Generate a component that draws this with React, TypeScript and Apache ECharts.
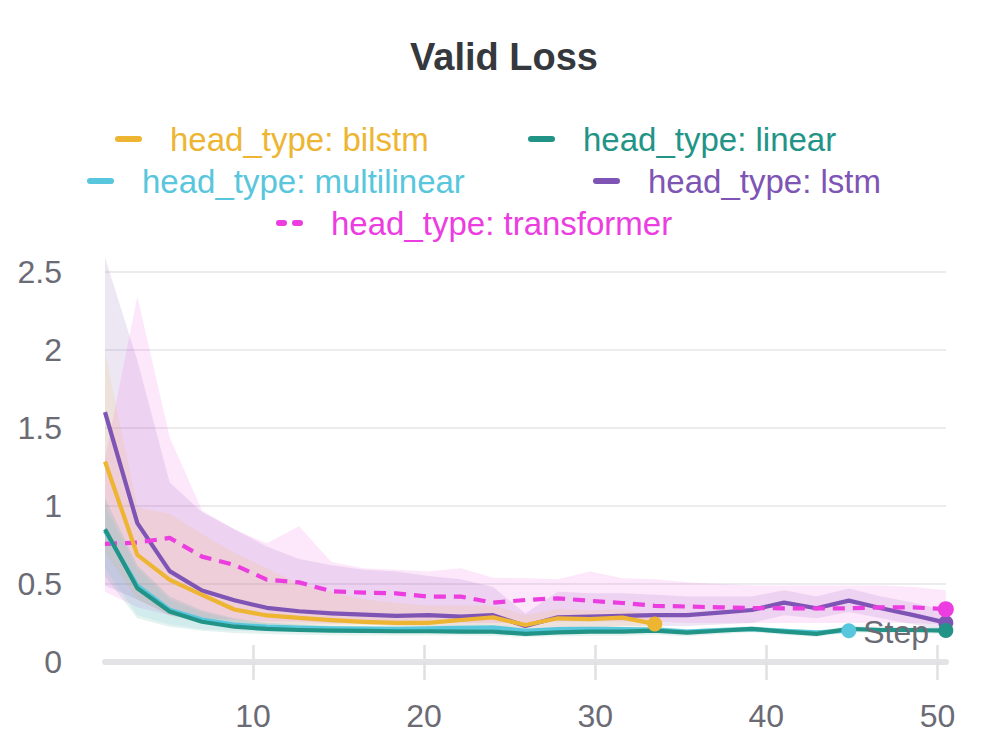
import React, { useEffect, useRef } from "react";
import * as echarts from "echarts";

const FONT = '"Liberation Sans", Arial, Helvetica, sans-serif';
const AXIS_TEXT = "#6b6b75";

// x positions (Step) of the logged points
const STEPS = [
  1.35, 3.24, 5.13, 7.02, 8.91, 10.8, 12.69, 14.58, 16.47, 18.36, 20.25, 22.14, 24.03, 25.92,
  27.81, 29.7, 31.59, 33.48, 35.37, 37.26, 39.15, 41.04, 42.93, 44.82, 46.71, 48.6, 50.49,
];
const X_TICKS = [10, 20, 30, 40, 50];
const Y_TICKS = [0, 0.5, 1, 1.5, 2, 2.5];

// head_type: bilstm
const BILSTM = [1.284, 0.686, 0.526, 0.43, 0.336, 0.298, 0.282, 0.268, 0.257, 0.25, 0.25, 0.269, 0.286, 0.237, 0.28, 0.274, 0.284, 0.244];
const BILSTM_LO = [0.7, 0.4, 0.3, 0.25, 0.22, 0.21, 0.2, 0.2, 0.19, 0.19, 0.19, 0.2, 0.21, 0.19, 0.21, 0.21, 0.21, 0.2];
const BILSTM_HI = [1.98, 0.99, 0.95, 0.82, 0.7, 0.6, 0.5, 0.45, 0.4, 0.38, 0.36, 0.36, 0.36, 0.3, 0.34, 0.33, 0.34, 0.3];

// head_type: linear
const LINEAR = [0.85, 0.472, 0.323, 0.258, 0.226, 0.212, 0.205, 0.201, 0.199, 0.197, 0.197, 0.195, 0.194, 0.18, 0.19, 0.194, 0.194, 0.201, 0.188, 0.2, 0.212, 0.194, 0.18, 0.212, 0.205, 0.205, 0.201];
const LINEAR_LO = [0.55, 0.28, 0.226, 0.2, 0.185, 0.18, 0.175, 0.172, 0.17, 0.17, 0.17, 0.17, 0.168, 0.16, 0.165, 0.168, 0.168, 0.175, 0.165, 0.178, 0.19, 0.175, 0.16, 0.19, 0.185, 0.185, 0.18];
const LINEAR_HI = [1.05, 0.62, 0.42, 0.33, 0.28, 0.25, 0.24, 0.23, 0.225, 0.22, 0.22, 0.22, 0.22, 0.205, 0.215, 0.22, 0.22, 0.225, 0.21, 0.22, 0.23, 0.215, 0.2, 0.23, 0.225, 0.225, 0.22];

// head_type: multilinear
const MULTILINEAR = [0.84, 0.49, 0.335, 0.272, 0.24, 0.226, 0.22, 0.216, 0.214, 0.212, 0.215, 0.218, 0.222, 0.2, 0.21, 0.212, 0.21, 0.208, 0.195, 0.205, 0.21, 0.2, 0.19, 0.2];
const MULTILINEAR_LO = [0.6, 0.3, 0.24, 0.21, 0.2, 0.195, 0.19, 0.19, 0.19, 0.19, 0.19, 0.192, 0.195, 0.18, 0.19, 0.192, 0.19, 0.19, 0.178, 0.188, 0.195, 0.185, 0.175, 0.185];
const MULTILINEAR_HI = [1.0, 0.6, 0.4, 0.32, 0.27, 0.25, 0.24, 0.235, 0.23, 0.23, 0.232, 0.235, 0.238, 0.215, 0.225, 0.228, 0.226, 0.225, 0.21, 0.22, 0.225, 0.215, 0.205, 0.215];

// head_type: lstm
const LSTM = [1.6, 0.889, 0.582, 0.458, 0.395, 0.347, 0.325, 0.312, 0.303, 0.296, 0.3, 0.29, 0.3, 0.23, 0.286, 0.29, 0.295, 0.3, 0.3, 0.316, 0.333, 0.38, 0.344, 0.393, 0.344, 0.3, 0.252];
const LSTM_LO = [0.49, 0.4, 0.3, 0.26, 0.25, 0.24, 0.24, 0.24, 0.24, 0.23, 0.23, 0.23, 0.24, 0.2, 0.22, 0.22, 0.23, 0.23, 0.23, 0.24, 0.25, 0.3, 0.28, 0.32, 0.28, 0.24, 0.2];
const LSTM_HI = [2.59, 1.93, 1.15, 0.96, 0.85, 0.74, 0.66, 0.62, 0.59, 0.58, 0.55, 0.53, 0.48, 0.31, 0.45, 0.44, 0.44, 0.43, 0.42, 0.42, 0.42, 0.46, 0.42, 0.47, 0.42, 0.38, 0.33];

// head_type: transformer
const TRANSFORMER = [0.756, 0.765, 0.795, 0.675, 0.622, 0.528, 0.51, 0.453, 0.444, 0.44, 0.419, 0.419, 0.38, 0.397, 0.408, 0.392, 0.378, 0.36, 0.355, 0.35, 0.346, 0.344, 0.344, 0.344, 0.35, 0.35, 0.338];
const TRANSFORMER_LO = [0.45, 0.35, 0.3, 0.28, 0.27, 0.26, 0.26, 0.25, 0.25, 0.25, 0.25, 0.25, 0.25, 0.25, 0.26, 0.26, 0.26, 0.26, 0.25, 0.25, 0.25, 0.25, 0.25, 0.25, 0.25, 0.25, 0.24];
const TRANSFORMER_HI = [1.3, 2.34, 1.44, 0.97, 0.85, 0.76, 0.87, 0.64, 0.6, 0.59, 0.58, 0.6, 0.54, 0.536, 0.53, 0.58, 0.536, 0.53, 0.51, 0.5, 0.49, 0.49, 0.49, 0.49, 0.49, 0.48, 0.46];

type Run = {
  name: string;
  color: string;
  band: string;
  dashed: boolean;
  mean: number[];
  lo: number[];
  hi: number[];
};

const RUNS: Run[] = [
  { name: "head_type: lstm", color: "#7e54b4", band: "rgba(126,84,180,0.14)", dashed: false, mean: LSTM, lo: LSTM_LO, hi: LSTM_HI },
  { name: "head_type: transformer", color: "#eb3de0", band: "rgba(235,61,224,0.12)", dashed: true, mean: TRANSFORMER, lo: TRANSFORMER_LO, hi: TRANSFORMER_HI },
  { name: "head_type: bilstm", color: "#edb532", band: "rgba(237,181,50,0.12)", dashed: false, mean: BILSTM, lo: BILSTM_LO, hi: BILSTM_HI },
  { name: "head_type: multilinear", color: "#58c6dc", band: "rgba(88,198,220,0.12)", dashed: false, mean: MULTILINEAR, lo: MULTILINEAR_LO, hi: MULTILINEAR_HI },
  { name: "head_type: linear", color: "#229487", band: "rgba(34,148,135,0.12)", dashed: false, mean: LINEAR, lo: LINEAR_LO, hi: LINEAR_HI },
];

// legend layout (rows of the wandb-style legend)
const LEGEND = [
  { name: "head_type: bilstm", x: 118, y: 139 },
  { name: "head_type: linear", x: 531, y: 139 },
  { name: "head_type: multilinear", x: 90, y: 181 },
  { name: "head_type: lstm", x: 596, y: 181 },
  { name: "head_type: transformer", x: 279, y: 223 },
];

function bandSeries(run: Run) {
  const n = run.lo.length;
  return {
    type: "custom",
    name: run.name + " (range)",
    silent: true,
    z: 1,
    clip: true,
    data: run.lo.map((v, i) => [STEPS[i], v, run.hi[i]]),
    encode: { x: 0, y: [1, 2] },
    renderItem: (params: any, api: any) => {
      if (params.dataIndex !== 0) return null;
      const pts: number[][] = [];
      for (let i = 0; i < n; i++) pts.push(api.coord([STEPS[i], run.hi[i]]));
      for (let i = n - 1; i >= 0; i--) pts.push(api.coord([STEPS[i], run.lo[i]]));
      return { type: "polygon", shape: { points: pts }, style: { fill: run.band } };
    },
  };
}

function lineSeries(run: Run) {
  return {
    type: "line",
    name: run.name,
    z: 3,
    symbol: "none",
    data: run.mean.map((v, i) => [STEPS[i], v]),
    lineStyle: { color: run.color, width: 4.2, type: run.dashed ? [12, 8] : "solid", cap: "butt", join: "round" },
    itemStyle: { color: run.color },
  };
}

function endDot(run: Run) {
  const i = run.mean.length - 1;
  return {
    type: "scatter",
    name: run.name + " (last)",
    z: 4,
    symbol: "circle",
    symbolSize: run.dashed ? 16 : 15,
    data: [[STEPS[i], run.mean[i]]],
    itemStyle: { color: run.color, opacity: 1 },
  };
}

function legendGraphics() {
  const els: any[] = [];
  LEGEND.forEach((item) => {
    const run = RUNS.find((r) => r.name === item.name)!;
    els.push({
      type: "line",
      shape: { x1: item.x, y1: item.y, x2: item.x + 21, y2: item.y },
      style: {
        stroke: run.color,
        lineWidth: 6,
        lineCap: "round",
        lineDash: run.dashed ? [5, 11] : null,
      },
    });
    els.push({
      type: "text",
      x: item.x + 52,
      y: item.y,
      style: {
        text: run.name,
        fill: run.color,
        font: `33px ${FONT}`,
        fontSize: 33,
        fontFamily: FONT,
        verticalAlign: "middle",
        align: "left",
      },
    });
  });
  return els;
}

export default function App() {
  const ref = useRef<HTMLDivElement>(null);

  useEffect(() => {
    if (!ref.current) return;
    const chart = echarts.init(ref.current, null, { renderer: "svg" });
    const option: any = {
      animation: false,
      backgroundColor: "#ffffff",
      textStyle: { fontFamily: FONT },
      title: {
        text: "Valid Loss",
        left: "center",
        top: 38,
        padding: 0,
        textStyle: { fontSize: 38, fontWeight: "bold", color: "#35383c", fontFamily: FONT },
      },
      grid: {
        left: 105,
        right: 62,
        top: 256,
        bottom: 91,
        containLabel: false,
        outerBoundsMode: "none",
      },
      xAxis: [
        {
          type: "value",
          min: 1.35,
          max: 50.5,
          position: "bottom",
          z: 5,
          name: "Step",
          nameLocation: "end",
          nameGap: -17,
          nameTextStyle: {
            fontSize: 32,
            color: AXIS_TEXT,
            fontFamily: FONT,
            align: "right",
            verticalAlign: "bottom",
            padding: [0, 0, 14, 0],
          },
          axisLine: { show: true, lineStyle: { color: "#e3e3e5", width: 6 } },
          axisTick: { show: true, customValues: X_TICKS, length: 18, lineStyle: { color: "#e0e0e2", width: 2.5 } },
          axisLabel: { show: true, customValues: X_TICKS, fontSize: 32, color: AXIS_TEXT, margin: 38, fontFamily: FONT },
          splitLine: { show: false },
        },
        {
          type: "value",
          min: 1.35,
          max: 50.5,
          position: "bottom",
          axisLine: { show: false },
          axisTick: { show: true, inside: true, customValues: X_TICKS, length: 17, lineStyle: { color: "#e0e0e2", width: 2.5 } },
          axisLabel: { show: false },
          splitLine: { show: false },
        },
      ],
      yAxis: {
        type: "value",
        min: 0,
        max: 2.6,
        interval: 0.5,
        axisLine: { show: false },
        axisTick: { show: false },
        axisLabel: { customValues: Y_TICKS, fontSize: 32, color: AXIS_TEXT, margin: 43, fontFamily: FONT },
        splitLine: { show: true, showMinLine: false, showMaxLine: false, lineStyle: { color: "#e6e6e8", width: 1.5 } },
      },
      graphic: legendGraphics(),
      series: [
        ...RUNS.map(bandSeries),
        ...RUNS.map(lineSeries),
        ...RUNS.map(endDot),
      ],
    };
    chart.setOption(option);
    return () => chart.dispose();
  }, []);

  return (
    <div
      ref={ref}
      style={{ position: "fixed", left: 0, top: 0, width: 1008, height: 753, background: "#fff" }}
    />
  );
}
